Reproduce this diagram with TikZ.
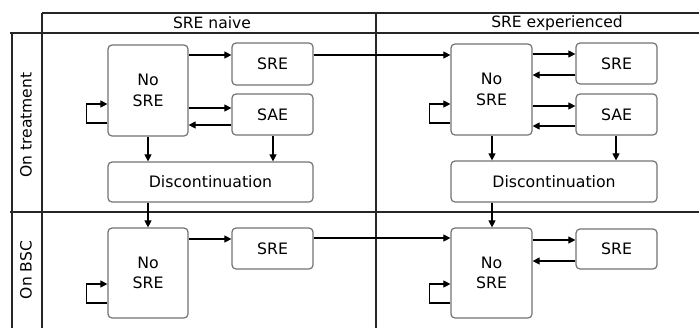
\documentclass[tikz,border=0pt]{standalone}
\usepackage{fontspec}
\setmainfont{DejaVu Sans}
\usetikzlibrary{arrows.meta,calc}
\begin{document}
\begin{tikzpicture}[x=1bp,y=-1bp,
  box/.style={draw=black!55, line width=1.2bp, rounded corners=4bp, fill=white, inner sep=0pt, align=center, font=\fontsize{15.8}{20.5}\selectfont},
  gridline/.style={draw=black!85, line width=1.1bp},
  conn/.style={draw=black, line width=1.1bp, -{Triangle[length=7bp,width=7bp]}},
  lbl/.style={font=\fontsize{15.6}{18}\selectfont, inner sep=0pt}]
\useasboundingbox (0,0) rectangle (699,328);
% grid
\draw[gridline] (42,13) -- (699,13);
\draw[gridline] (10,33) -- (699,33);
\draw[gridline] (42,13) -- (42,328);
\draw[gridline] (12,33) -- (12,328);
\draw[gridline] (376,13) -- (376,328);
\draw[gridline] (10,212) -- (699,212);
% headers
\node[lbl] (h1) at (212,23) {SRE naive};
\node[lbl] (h2) at (557,23) {SRE experienced};
\node[lbl, rotate=90] (v1) at (26,125) {On treatment};
\node[lbl, rotate=90] (v2) at (26,270) {On BSC};
% naive column
\node[box, minimum width=80bp, minimum height=91bp] (n1) at (148,90.5) {No\\SRE};
\node[box, minimum width=81bp, minimum height=42bp] (s1) at (272.5,64) {SRE};
\node[box, minimum width=81bp, minimum height=41bp] (a1) at (272.5,114.5) {SAE};
\node[box, minimum width=205bp, minimum height=40bp] (d1) at (210.5,182) {Discontinuation};
\node[box, minimum width=80bp, minimum height=90bp] (b1) at (148,273) {No\\SRE};
\node[box, minimum width=81bp, minimum height=41bp] (bs1) at (272.5,248.5) {SRE};
% experienced column
\node[box, minimum width=81bp, minimum height=91bp] (n2) at (491.5,89.5) {No\\SRE};
\node[box, minimum width=81bp, minimum height=41bp] (s2) at (616.5,63.5) {SRE};
\node[box, minimum width=81bp, minimum height=41bp] (a2) at (616.5,114.5) {SAE};
\node[box, minimum width=206bp, minimum height=41bp] (d2) at (554,181.5) {Discontinuation};
\node[box, minimum width=81bp, minimum height=90bp] (b2) at (491.5,273) {No\\SRE};
\node[box, minimum width=81bp, minimum height=40bp] (bs2) at (616.5,249) {SRE};
% naive connectors
\draw[conn] (n1.east |- 0,55) -- (s1.west |- 0,55);
\draw[conn] (n1.east |- 0,108) -- (a1.west |- 0,108);
\draw[conn] (a1.west |- 0,125) -- (n1.east |- 0,125);
\draw[conn] (n1.west |- 0,123) -- ++(-21,0) -- ++(0,-19) -- (n1.west |- 0,104);
\draw[conn] (n1.south -| 148,0) -- (d1.north -| 148,0);
\draw[conn] (a1.south -| 273,0) -- (d1.north -| 273,0);
\draw[conn] (d1.south -| 148,0) -- (b1.north);
\draw[conn] (s1.east |- 0,55) -- (n2.west |- 0,55);
\draw[conn] (b1.east |- 0,239) -- (bs1.west |- 0,239);
\draw[conn] (b1.west |- 0,303) -- ++(-21,0) -- ++(0,-19) -- (b1.west |- 0,284);
\draw[conn] (bs1.east |- 0,238) -- (b2.west |- 0,238);
% experienced connectors
\draw[conn] (n2.east |- 0,54) -- (s2.west |- 0,54);
\draw[conn] (s2.west |- 0,75) -- (n2.east |- 0,75);
\draw[conn] (n2.east |- 0,106) -- (a2.west |- 0,106);
\draw[conn] (a2.west |- 0,126) -- (n2.east |- 0,126);
\draw[conn] (n2.west |- 0,123) -- ++(-21,0) -- ++(0,-19) -- (n2.west |- 0,104);
\draw[conn] (n2.south -| 492,0) -- (d2.north -| 492,0);
\draw[conn] (a2.south -| 616,0) -- (d2.north -| 616,0);
\draw[conn] (d2.south -| 492,0) -- (b2.north -| 492,0);
\draw[conn] (b2.east |- 0,240) -- (bs2.west |- 0,240);
\draw[conn] (bs2.west |- 0,261) -- (b2.east |- 0,261);
\draw[conn] (b2.west |- 0,303) -- ++(-21,0) -- ++(0,-19) -- (b2.west |- 0,284);
\end{tikzpicture}
\end{document}
